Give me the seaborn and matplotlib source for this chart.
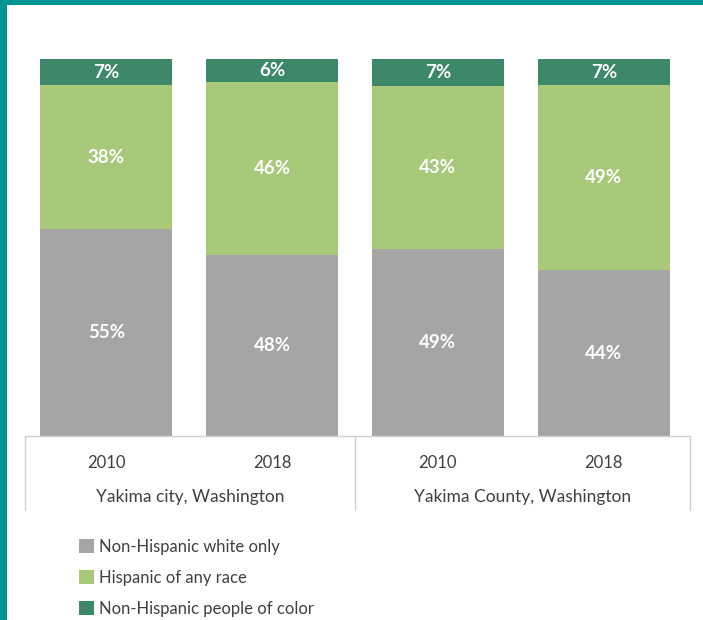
import matplotlib
matplotlib.use("Agg")
import matplotlib.pyplot as plt
import matplotlib.patches as mpatches
import seaborn as sns
import pandas as pd

# values (percent)
places = ["Yakima city, Washington", "Yakima County, Washington"]
years = ["2010", "2018", "2010", "2018"]
bar_keys = ["city 2010", "city 2018", "county 2010", "county 2018"]
white_only = [55, 48, 49, 44]
hispanic = [38, 46, 43, 49]
people_of_color = [7, 6, 7, 7]

series_names = ["Non-Hispanic white only", "Hispanic of any race", "Non-Hispanic people of color"]
colors = ["#a5a5a5", "#a8c87a", "#3d8869"]

df = pd.DataFrame({
    "bar": bar_keys,
    "white": white_only,
    "hisp": hispanic,
    "poc": people_of_color,
})
# 100% stacked: scale each bar to its total
total = df["white"] + df["hisp"] + df["poc"]
df["cum1"] = df["white"] / total * 100
df["cum2"] = (df["white"] + df["hisp"]) / total * 100
df["cum3"] = 100.0

sns.set_style("white")
plt.rcParams["font.family"] = ["Lato", "DejaVu Sans"]

W, H = 703, 620
fig = plt.figure(figsize=(W / 100, H / 100), dpi=100)
fig.patch.set_facecolor("white")

# teal frame on top and left
fig.add_artist(mpatches.Rectangle((0, 0), 7 / W, 1, transform=fig.transFigure,
                                  color="#009595", lw=0, zorder=0))
fig.add_artist(mpatches.Rectangle((0, 1 - 5 / H), 1, 5 / H, transform=fig.transFigure,
                                  color="#009595", lw=0, zorder=0))

ax = fig.add_axes([25 / W, (H - 436) / H, 665 / W, 377 / H])

# stacked bars: draw the tallest cumulative layer first
for col, c in zip(["cum3", "cum2", "cum1"], colors[::-1]):
    sns.barplot(data=df, x="bar", y=col, order=bar_keys, color=c, width=0.795,
                saturation=1, ax=ax, edgecolor="none", linewidth=0)

ax.set_xlim(-0.49, 3.52)
ax.set_ylim(0, 100)
ax.set_xlabel("")
ax.set_ylabel("")
ax.set_yticks([])
for s in ["top", "right", "left"]:
    ax.spines[s].set_visible(False)
ax.spines["bottom"].set_color("#d0d0d0")
ax.spines["bottom"].set_linewidth(1)

ax.set_xticks(range(len(years)))
ax.set_xticklabels(years, fontsize=12, color="#404040")
ax.tick_params(axis="x", length=0, pad=14)

# segment labels
for i, row in df.iterrows():
    segs = [(0, row["cum1"], row["white"]),
            (row["cum1"], row["cum2"], row["hisp"]),
            (row["cum2"], row["cum3"], row["poc"])]
    for lo, hi, v in segs:
        ax.text(i, (lo + hi) / 2, f"{v}%", ha="center", va="center",
                color="white", fontsize=13.5, fontweight="bold")

# group separators and group labels below the axis
sep_px = [25, 355, 690]
for xp in sep_px:
    fig.add_artist(plt.Line2D([xp / W, xp / W], [(H - 437) / H, (H - 510) / H],
                              transform=fig.transFigure, color="#d0d0d0", lw=1))
for k, name in enumerate(places):
    xc = (sep_px[k] + sep_px[k + 1]) / 2
    fig.text(xc / W, (H - 497) / H, name, ha="center", va="center",
             fontsize=12.5, color="#404040")

handles = [mpatches.Patch(facecolor=c, edgecolor="none", label=n)
           for n, c in zip(series_names, colors)]
fig.legend(handles=handles, loc="upper left", bbox_to_anchor=(64 / W, (H - 524) / H),
           frameon=False, fontsize=12, labelcolor="#404040", handlelength=0.9,
           handleheight=0.9, handletextpad=0.3, labelspacing=0.9)

fig.savefig("out.png", dpi=100, facecolor="white")
